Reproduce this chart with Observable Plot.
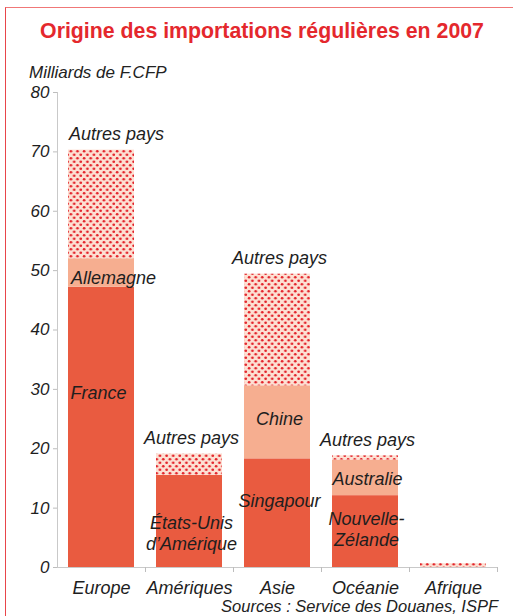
<!DOCTYPE html>
<html><head><meta charset="utf-8">
<script src="https://cdn.jsdelivr.net/npm/d3@7"></script>
<script src="https://cdn.jsdelivr.net/npm/@observablehq/plot@0.6"></script>
<style>
body{margin:0;background:#fff;}
#wrap{position:relative;width:513px;height:616px;overflow:hidden;font-family:"Liberation Sans",Arial,Helvetica,sans-serif;background:#fff;}
#frame{position:absolute;left:5px;top:7px;width:600px;height:700px;border-left:1.5px solid #e8454a;border-top:1.5px solid #f07777;}
#title{position:absolute;left:11px;top:21px;width:502px;text-align:center;font-size:21.3px;font-weight:bold;line-height:1;color:#e4282d;white-space:nowrap;}
#ylab{position:absolute;left:29px;top:64px;font-size:17px;font-style:italic;line-height:1;color:#222;white-space:nowrap;}
#src{position:absolute;right:15px;top:598px;font-size:16.5px;font-style:italic;line-height:1;color:#222;white-space:nowrap;}
#chart{position:absolute;left:0;top:55px;}
#chart svg text{font-style:italic;}
</style>
</head><body>
<div id="wrap">
  <div id="frame"></div>
  <div id="title">Origine des importations régulières en 2007</div>
  <div id="ylab">Milliards de F.CFP</div>
  <div id="chart"></div>
  <div id="src">Sources : Service des Douanes, ISPF</div>
</div>
<script>
// ---- data (Milliards de F.CFP) ----
const categories = ["Europe", "Amériques", "Asie", "Océanie", "Afrique"];
const mainNames = ["France", "États-Unis\nd’Amérique", "Singapour", "Nouvelle-\nZélande", ""];
const mainValues = [47.2, 15.5, 18.3, 12.1, 0];
const secondNames = ["Allemagne", "", "Chine", "Australie", ""];
const secondValues = [4.8, 0, 12.3, 6.0, 0];
const otherName = "Autres pays";
const otherValues = [18.3, 3.6, 18.8, 0.7, 0.65];
const yTicks = [0, 10, 20, 30, 40, 50, 60, 70, 80];

// ---- table built from the arrays ----
const types = ["main", "second", "other"];
const rows = [];
const labels = [];
const tops = [];
categories.forEach((cat, i) => {
  const segs = [
    {type: "main", value: mainValues[i], name: mainNames[i]},
    {type: "second", value: secondValues[i], name: secondNames[i]},
    {type: "other", value: otherValues[i], name: ""}
  ];
  let acc = 0;
  segs.forEach(s => {
    rows.push({cat, type: s.type, value: s.value});
    if (s.name) labels.push({cat, name: s.name, mid: acc + s.value / 2});
    acc += s.value;
  });
  tops.push({cat, total: acc, show: mainValues[i] > 0});
});

// label nudges (styling only)
const nudge = {
  "France": {dx: -3, dy: -35},
  "Allemagne": {dx: 12, dy: 4},
  "États-Unis\nd’Amérique": {dx: 2, dy: 11},
  "Singapour": {dx: 2, dy: -13},
  "Chine": {dx: 2, dy: -4},
  "Nouvelle-\nZélande": {dx: 1, dy: -3},
  "Australie": {dx: 2, dy: 0}
};

const txt = {fontSize: 18, fontStyle: "italic", fill: "#1e1e1e", lineHeight: 1.17};

const plot = Plot.plot({
  width: 513,
  height: 561,
  marginTop: 37,
  marginBottom: 49,
  marginLeft: 57,
  marginRight: 16,
  style: {fontFamily: "'Liberation Sans', Arial, sans-serif", fontStyle: "italic", color: "#1e1e1e", background: "transparent", overflow: "visible"},
  x: {domain: categories, paddingInner: 0.25, paddingOuter: 0.125, label: null},
  y: {domain: [0, 80], label: null},
  color: {domain: types, range: ["#e95b40", "#f6ae90", "url(#dots)"]},
  marks: [
    Plot.barY(rows, {x: "cat", y: "value", fill: "type"}),
    Plot.ruleY([0], {stroke: "#c9c9c9"}),
    Plot.frame({anchor: "left", stroke: "#c9c9c9"}),
    Plot.axisY({ticks: yTicks, tickSize: 4, tickPadding: 4, fontSize: 17, fontStyle: "italic", stroke: "#bdbdbd", label: null}),
    Plot.axisX({tickSize: 0, tickPadding: 14, fontSize: 18, fontStyle: "italic", label: null}),
    Plot.axisX({tickSize: 5, dx: 44, tickFormat: () => "", stroke: "#bdbdbd", label: null}),
    ...labels.map(l => Plot.text([l], {x: "cat", y: "mid", text: "name", lineAnchor: "middle", ...txt, dx: (nudge[l.name] || {}).dx || 0, dy: (nudge[l.name] || {}).dy || 0})),
    ...tops.filter(t => t.show).map(t => Plot.text([t], {x: "cat", y: "total", text: () => otherName, lineAnchor: "middle", ...txt, dy: -17, dx: t.cat === "Europe" ? 15 : 2}))
  ]
});

// dotted pattern for "Autres pays"
const svg = d3.select(plot);
const pat = svg.insert("defs", ":first-child").append("pattern")
  .attr("id", "dots").attr("patternUnits", "userSpaceOnUse")
  .attr("width", 6.6).attr("height", 7);
pat.append("rect").attr("width", 6.6).attr("height", 7).attr("fill", "#fde0d3");
pat.append("circle").attr("cx", 1.6).attr("cy", 1.75).attr("r", 1.35).attr("fill", "#e3222a");
pat.append("circle").attr("cx", 4.9).attr("cy", 5.25).attr("r", 1.35).attr("fill", "#e3222a");

document.getElementById("chart").appendChild(plot);
</script>
</body></html>
